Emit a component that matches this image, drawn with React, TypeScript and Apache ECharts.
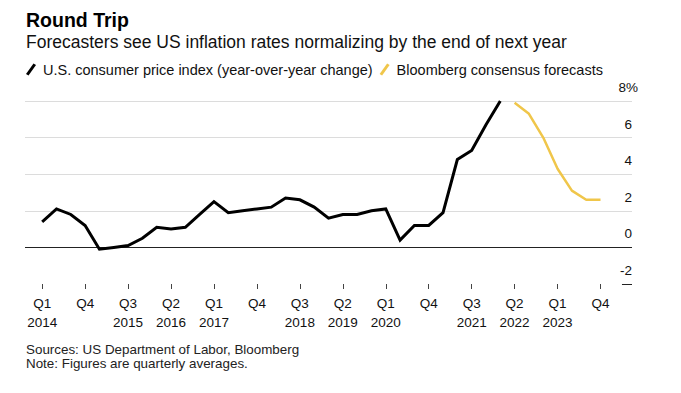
import React, { useEffect, useRef } from "react";
import * as echarts from "echarts";

const cpiValues = [
  1.4, 2.1, 1.8, 1.2, -0.1, 0.0, 0.1, 0.5, 1.1, 1.0, 1.1, 1.8, 2.5, 1.9, 2.0, 2.1,
  2.2, 2.7, 2.6, 2.2, 1.6, 1.8, 1.8, 2.0, 2.1, 0.4, 1.2, 1.2, 1.9, 4.8, 5.3, 6.7, 8.0,
];
const cpiStartIndex = 0; // Q1 2014
const forecastValues = [7.9, 7.3, 6.0, 4.3, 3.1, 2.6, 2.6];
const forecastStartIndex = 33; // Q2 2022

const tickIndices = [0, 3, 6, 9, 12, 15, 18, 21, 24, 27, 30, 33, 36, 39];
const tickLabels = [
  "Q1\n2014", "Q4", "Q3\n2015", "Q2\n2016", "Q1\n2017", "Q4", "Q3\n2018",
  "Q2\n2019", "Q1\n2020", "Q4", "Q3\n2021", "Q2\n2022", "Q1\n2023", "Q4",
];
const yTicks = [-2, 0, 2, 4, 6, 8];

const FONT = "Liberation Sans, Arial, sans-serif";
const SLASH = "path://M7.5,0 L10,1.5 L2.5,12 L0,10.5 Z";

export default function App() {
  const ref = useRef<HTMLDivElement>(null);
  useEffect(() => {
    const chart = echarts.init(ref.current!, null, { renderer: "svg" });
    const cpiData = cpiValues.map((v, i) => [cpiStartIndex + i, v]);
    const fcData = forecastValues.map((v, i) => [forecastStartIndex + i, v]);
    chart.setOption({
      animation: false,
      backgroundColor: "#fff",
      textStyle: { fontFamily: FONT },
      graphic: [
        {
          type: "text",
          left: 26,
          top: 10,
          style: { text: "Round Trip", font: `bold 19.5px ${FONT}`, fill: "#000" },
        },
        {
          type: "text",
          left: 26,
          top: 33,
          style: {
            text: "Forecasters see US inflation rates normalizing by the end of next year",
            font: `17.5px ${FONT}`,
            fill: "#111",
          },
        },
        {
          type: "text",
          left: 26,
          top: 342,
          style: {
            text: "Sources: US Department of Labor, Bloomberg\nNote: Figures are quarterly averages.",
            font: `13.4px ${FONT}`,
            lineHeight: 14.5,
            fill: "#222",
          },
        },
      ],
      legend: {
        left: 26,
        top: 62,
        itemWidth: 10,
        itemHeight: 12,
        itemGap: 7,
        padding: 0,
        textStyle: { fontSize: 14.5, color: "#111", fontFamily: FONT, padding: [0, 0, 0, 2] },
        data: [
          { name: "U.S. consumer price index (year-over-year change)", icon: SLASH },
          { name: "Bloomberg consensus forecasts", icon: SLASH },
        ],
      },
      grid: { left: 25, right: 49, top: 101, bottom: 109, containLabel: false },
      xAxis: {
        type: "value",
        min: -1.2,
        max: 41.2,
        axisLine: { show: false, onZero: false },
        splitLine: { show: false },
        axisTick: {
          show: true,
          length: 5,
          customValues: tickIndices,
          lineStyle: { color: "#444", width: 1 },
        },
        axisLabel: {
          customValues: tickIndices,
          margin: 10,
          fontSize: 13.5,
          lineHeight: 19,
          color: "#111",
          fontFamily: FONT,
          formatter: (v: number) => {
            const k = tickIndices.indexOf(Math.round(v));
            return k >= 0 ? tickLabels[k] : "";
          },
        },
      },
      yAxis: {
        type: "value",
        position: "right",
        min: yTicks[0],
        max: yTicks[yTicks.length - 1],
        interval: 2,
        axisLine: { show: false },
        axisTick: { show: false },
        splitLine: {
          show: true,
          lineStyle: {
            color: ["rgba(0,0,0,0)", "#222", "#dcdcdc", "#dcdcdc", "#dcdcdc", "#dcdcdc"],
            width: 1,
          },
        },
        axisLabel: {
          inside: true,
          margin: -6,
          align: "right",
          verticalAlign: "bottom",
          padding: [0, 0, 6, 0],
          color: "#111",
          fontSize: 13.5,
          fontFamily: FONT,
          formatter: (v: number) => (v === 8 ? "{p|8%}" : `{n|${v}}`),
          rich: {
            p: { fontSize: 13.5, color: "#111", fontFamily: FONT, lineHeight: 15 },
            n: { fontSize: 13.5, color: "#111", fontFamily: FONT, lineHeight: 15, padding: [0, 6, 0, 0] },
          },
        },
      },
      series: [
        {
          name: "U.S. consumer price index (year-over-year change)",
          type: "line",
          data: cpiData,
          showSymbol: false,
          symbol: "none",
          color: "#000",
          lineStyle: { color: "#000", width: 3, join: "miter" },
          z: 3,
        },
        {
          name: "Bloomberg consensus forecasts",
          type: "line",
          data: fcData,
          showSymbol: false,
          symbol: "none",
          color: "#f0c64a",
          lineStyle: { color: "#f0c64a", width: 2.5 },
          z: 3,
          markLine: {
            silent: true,
            symbol: "none",
            label: { show: false },
            lineStyle: { color: "#222", width: 1, type: "solid" },
            data: [[{ coord: [40.5, -2] }, { coord: [41.2, -2] }]],
          },
        },
      ],
    });
    return () => chart.dispose();
  }, []);
  return (
    <div
      ref={ref}
      style={{ position: "fixed", left: 0, top: 0, width: 681, height: 393 }}
    />
  );
}
